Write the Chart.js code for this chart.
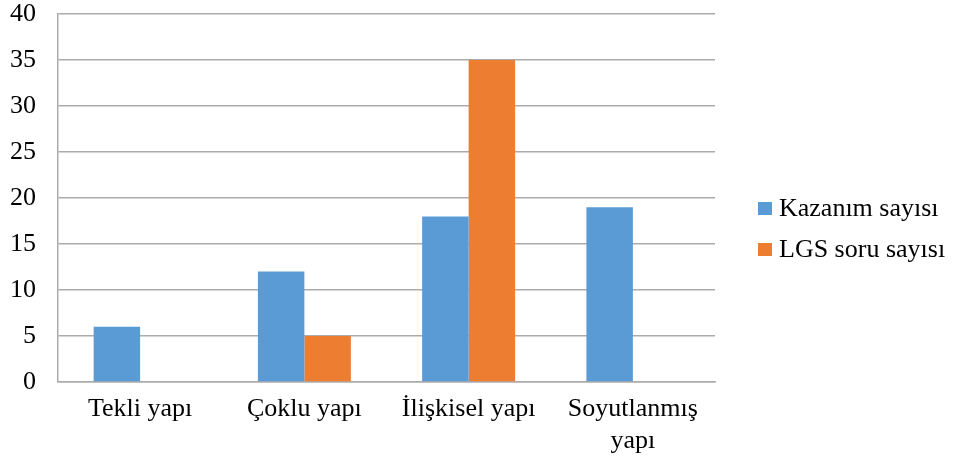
<!DOCTYPE html>
<html>
<head>
<meta charset="utf-8">
<script src="https://cdn.jsdelivr.net/npm/chart.js@4/dist/chart.umd.min.js"></script>
<style>
  html, body { margin: 0; padding: 0; background: #ffffff; }
  #wrap { width: 953px; height: 463px; position: relative; }
</style>
</head>
<body>
<div id="wrap"><canvas id="c" width="953" height="463"></canvas></div>
<script>
// Yapı türlerine göre kazanım ve LGS soru sayıları
const categories = ["Tekli yapı", "Çoklu yapı", "İlişkisel yapı", ["Soyutlanmış", "yapı"]];
const seriesNames = ["Kazanım sayısı", "LGS soru sayısı"];
const kazanimValues = [6, 12, 18, 19];
const lgsValues = [0, 5, 35, 0];
const yTicks = [0, 5, 10, 15, 20, 25, 30, 35, 40];

const BLUE = "#5B9BD5";
const ORANGE = "#ED7D31";
const GRID = "#ababab";
const FAMILY = "'Liberation Serif', 'Times New Roman', serif";
const FONT = { family: FAMILY, size: 26, lineHeight: 1.2 };

// Legend drawn on the right side, stacked vertically
const sideLegend = {
  id: "sideLegend",
  afterDraw(chart) {
    const ctx = chart.ctx;
    const area = chart.chartArea;
    const boxX = area.right + 43;
    const gap = 41;
    const centerY = 228.5;
    const ds = chart.data.datasets;
    const startY = centerY - gap * (ds.length - 1) / 2;
    ctx.save();
    ctx.font = FONT.size + "px " + FAMILY;
    ctx.textBaseline = "middle";
    ctx.textAlign = "left";
    ds.forEach((d, i) => {
      const y = startY + i * gap;
      ctx.fillStyle = d.backgroundColor;
      ctx.fillRect(boxX, y - 6, 14, 13);
      ctx.fillStyle = "#000000";
      ctx.fillText(d.label, boxX + 21, y + 1);
    });
    ctx.restore();
  }
};

new Chart(document.getElementById("c"), {
  type: "bar",
  data: {
    labels: categories,
    datasets: [
      { label: seriesNames[0], data: kazanimValues, backgroundColor: BLUE, borderWidth: 0 },
      { label: seriesNames[1], data: lgsValues, backgroundColor: ORANGE, borderWidth: 0 }
    ]
  },
  options: {
    responsive: false,
    animation: false,
    devicePixelRatio: 1,
    layout: { padding: { top: 14, right: 238, left: 0, bottom: 0 } },
    datasets: { bar: { barPercentage: 1.0, categoryPercentage: 0.566 } },
    plugins: {
      legend: { display: false },
      tooltip: { enabled: false }
    },
    scales: {
      x: {
        grid: { display: false, drawTicks: false },
        border: { display: true, color: GRID, width: 1.5 },
        ticks: { color: "#000000", font: FONT, padding: 12, maxRotation: 0, autoSkip: false },
        afterFit(scale) {
          scale.height = 81;
          scale.paddingLeft = 0;
          scale.paddingRight = 0;
        }
      },
      y: {
        min: 0,
        max: 40,
        afterBuildTicks(scale) { scale.ticks = yTicks.map(v => ({ value: v })); },
        grid: { color: GRID, lineWidth: 1.5, drawTicks: false },
        border: { display: true, color: GRID, width: 1.5 },
        ticks: { color: "#000000", font: FONT, padding: 22 },
        afterFit(scale) {
          scale.width = 58;
          scale.paddingTop = 0;
          scale.paddingBottom = 0;
        }
      }
    }
  },
  plugins: [sideLegend]
});
</script>
</body>
</html>
